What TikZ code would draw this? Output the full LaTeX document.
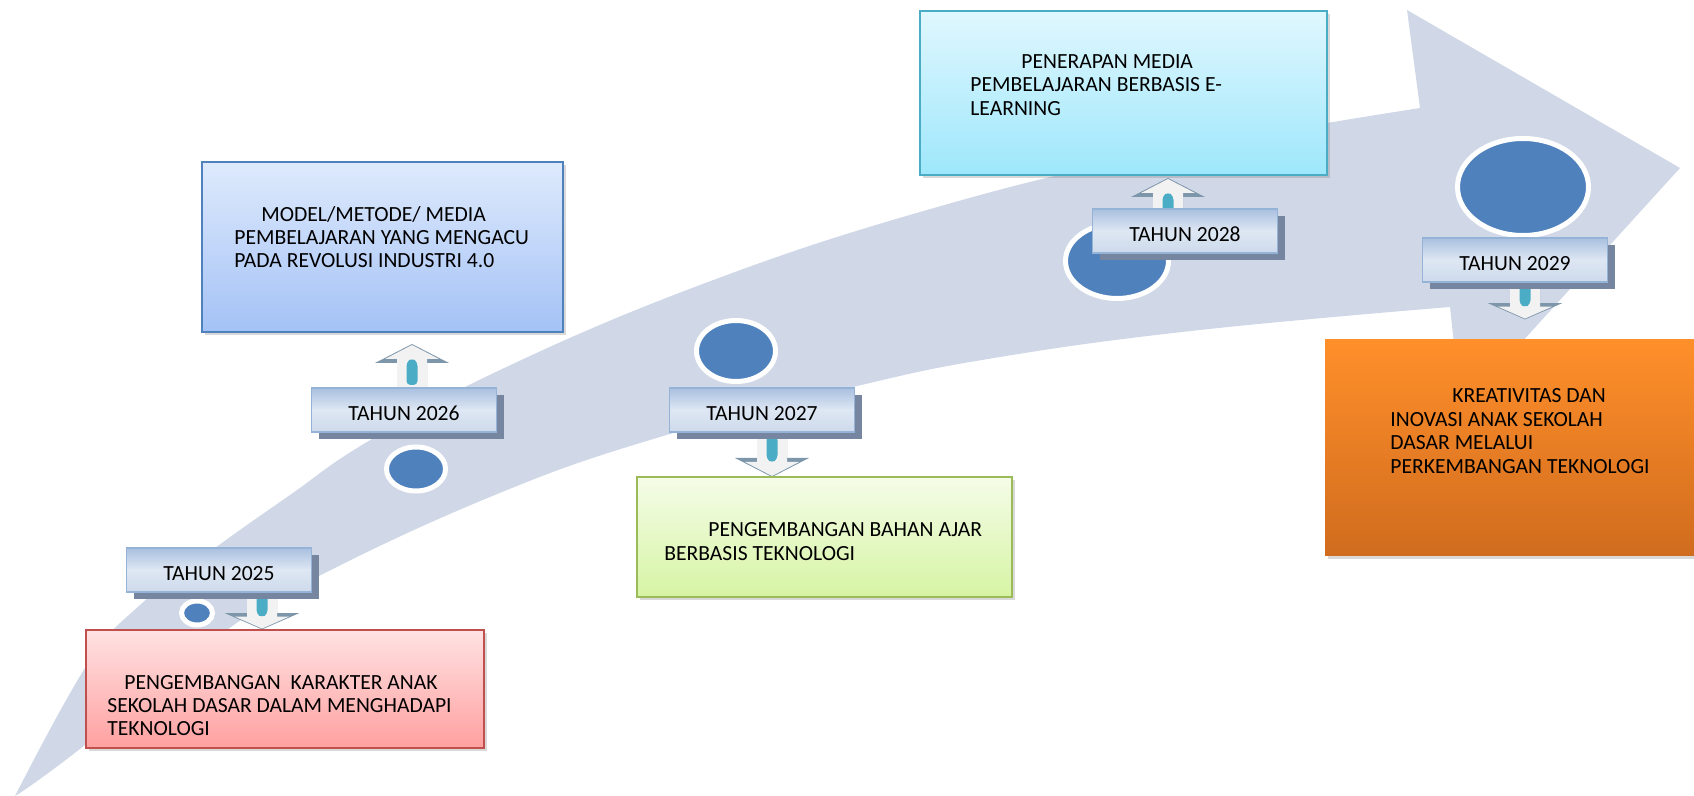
\documentclass[tikz,border=0pt]{standalone}
\usepackage{fontspec}
\setmainfont{Carlito}
\usetikzlibrary{shapes.geometric,shadows}

\definecolor{bandc}{RGB}{208,216,232}
\definecolor{dotc}{RGB}{79,129,189}
\definecolor{yearline}{RGB}{149,179,215}
\definecolor{yeartop}{RGB}{170,192,224}
\definecolor{yearmid}{RGB}{222,231,243}
\definecolor{yearbot}{RGB}{205,218,236}
\definecolor{yearshade}{RGB}{118,134,160}
\definecolor{arrwhite}{RGB}{242,242,242}
\definecolor{arrgrey}{RGB}{125,150,170}
\definecolor{arrcyan}{RGB}{75,172,198}
\definecolor{redline}{RGB}{192,80,77}
\definecolor{redtop}{RGB}{255,226,226}
\definecolor{redbot}{RGB}{255,160,160}
\definecolor{blueline}{RGB}{79,129,189}
\definecolor{bluetop}{RGB}{222,234,252}
\definecolor{bluebot}{RGB}{164,194,246}
\definecolor{greenline}{RGB}{155,187,89}
\definecolor{greentop}{RGB}{245,252,232}
\definecolor{greenbot}{RGB}{214,244,164}
\definecolor{cyanline}{RGB}{75,172,198}
\definecolor{cyantop}{RGB}{224,247,254}
\definecolor{cyanbot}{RGB}{158,231,251}
\definecolor{orangetop}{RGB}{255,143,42}
\definecolor{orangebot}{RGB}{208,108,30}

\begin{document}
\begin{tikzpicture}[
    x=0.5pt, y=-0.5pt,
    every node/.style={font=\fontsize{10.8}{11.7}\selectfont},
    dot/.style={ellipse, fill=dotc, draw=white, line width=2.5pt, inner sep=0pt},
    content/.style={rectangle, line width=0.8pt, inner sep=0pt,
        drop shadow={opacity=0.3, shadow xshift=1.5pt, shadow yshift=-1.5pt}},
    body/.style={anchor=west, align=left, inner sep=0pt},
    year/.style={rectangle, draw=yearline, line width=0.6pt,
        top color=yeartop, bottom color=yearbot, middle color=yearmid,
        minimum width=92.5pt, minimum height=22pt, text height=10.8pt, text depth=0pt,
        general shadow={fill=yearshade, shadow xshift=3.5pt, shadow yshift=-3.5pt}},
    pics/blockarr/.style={code={
        \fill[arrgrey] (-15,0) -- (15,0) -- (15,25) -- (37,25) -- (0,44) -- (-37,25) -- (-15,25) -- cycle;
        \fill[arrwhite] (-15,0) -- (15,0) -- (15,29) -- (27,29) -- (0,43) -- (-27,29) -- (-15,29) -- cycle;
        \fill[arrcyan, rounded corners=2pt] (-5.5,3) -- (5.5,3) -- (5.5,26) -- (0,30) -- (-5.5,26) -- cycle;
    }}
]
\useasboundingbox (0,0) rectangle (1694,796);

% Background arrow
\fill[bandc] plot[smooth, tension=0.7] coordinates {(15,796) (87,665) (140,605) (215,548) (290,495) (367,442) (500,370) (700,285) (920,212) (1150,155) (1420,108)}
    -- (1407,10) -- (1680,168) -- (1461,409) -- (1450,307)
    -- plot[smooth, tension=0.7] coordinates {(1450,307) (1200,330) (1000,357) (853,387) (650,440) (490,497) (317,577) (220,635) (85,745) (20,793)} -- cycle;

% Dots
\node[dot, minimum width=15.5pt, minimum height=12pt] (dot25) at (197,613) {};
\node[dot, minimum width=29.5pt, minimum height=22pt] (dot26) at (416,469) {};
\node[dot, minimum width=39.5pt, minimum height=30.5pt] (dot27) at (736,351) {};
\node[dot, minimum width=51.5pt, minimum height=37.5pt] (dot28) at (1117,261) {};
\node[dot, minimum width=65.5pt, minimum height=48.5pt] (dot29) at (1523,187) {};

% Arrows
\pic[yscale=0.85] (arr25) at (262,592) {blockarr};
\pic[rotate=180] (arr26) at (412,388) {blockarr};
\pic (arr27) at (772,433) {blockarr};
\pic[rotate=180] (arr28) at (1168,222) {blockarr};
\pic[yscale=0.85] (arr29) at (1525,282) {blockarr};

% 2025
\node[content, draw=redline, top color=redtop, bottom color=redbot,
    minimum width=199pt, minimum height=59pt] (box25) at (285,689) {};
\node[body] (text25) at (107,705.5) {\hspace*{8.5pt}PENGEMBANGAN\ \ KARAKTER ANAK\\SEKOLAH DASAR DALAM MENGHADAPI\\TEKNOLOGI};
\node[year] (year25) at (219,570) {TAHUN 2025};

% 2026
\node[content, draw=blueline, top color=bluetop, bottom color=bluebot,
    minimum width=180.5pt, minimum height=85pt] (box26) at (382.5,247) {};
\node[body] (text26) at (234,237) {\hspace*{13.5pt}MODEL/METODE/ MEDIA\\PEMBELAJARAN YANG MENGACU\\PADA REVOLUSI INDUSTRI 4.0};
\node[year] (year26) at (404,410) {TAHUN 2026};

% 2027
\node[content, draw=greenline, top color=greentop, bottom color=greenbot,
    minimum width=187.5pt, minimum height=60pt] (box27) at (824.5,537) {};
\node[body] (text27) at (664,541.5) {\hspace*{22pt}PENGEMBANGAN BAHAN AJAR\\BERBASIS TEKNOLOGI};
\node[year] (year27) at (762,410) {TAHUN 2027};

% 2028
\node[content, draw=cyanline, top color=cyantop, bottom color=cyanbot,
    minimum width=203.5pt, minimum height=82pt] (box28) at (1123.5,93) {};
\node[body] (text28) at (970,85) {\hspace*{25.5pt}PENERAPAN MEDIA\\PEMBELAJARAN BERBASIS E-\\LEARNING};
\node[year] (year28) at (1185,231) {TAHUN 2028};

% 2029
\node[content, top color=orangetop, bottom color=orangebot,
    minimum width=187.5pt, minimum height=108pt] (box29) at (1512.5,448) {};
\node[body] (text29) at (1390,431) {\hspace*{31pt}KREATIVITAS DAN\\INOVASI ANAK SEKOLAH\\DASAR MELALUI\\PERKEMBANGAN TEKNOLOGI};
\node[year] (year29) at (1515,260) {TAHUN 2029};

\end{tikzpicture}
\end{document}
